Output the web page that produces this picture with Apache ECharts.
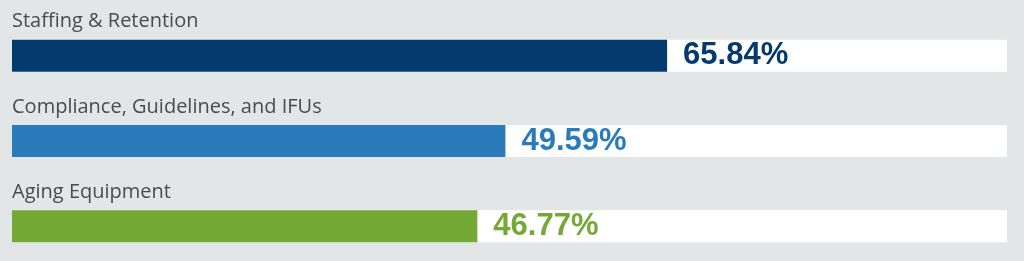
<!DOCTYPE html>
<html>
<head>
<meta charset="utf-8">
<script src="https://cdn.jsdelivr.net/npm/echarts@6/dist/echarts.min.js"></script>
<style>
  html, body { margin: 0; padding: 0; background: #e3e6e7; }
  #chart { width: 1024px; height: 261px; }
</style>
</head>
<body>
<div id="chart"></div>
<script>
const categories = ['Staffing & Retention', 'Compliance, Guidelines, and IFUs', 'Aging Equipment']
const percentValues = [65.84, 49.59, 46.77]
const trackMax = [100, 100, 100]
const barColors = ['#053a6e', '#2b7bba', '#74a935']

const chart = echarts.init(document.getElementById('chart'))

chart.setOption({
  backgroundColor: '#e3e6e7',
  animation: false,
  grid: { left: 12, right: 17, top: 13, height: 256, outerBoundsMode: 'none' },
  xAxis: { type: 'value', min: 0, max: 100, show: false },
  yAxis: {
    type: 'category',
    data: categories,
    inverse: true,
    show: false,
  },
  series: [
    {
      // white track with the category name above it
      type: 'bar',
      data: trackMax,
      barWidth: 32,
      barGap: '-100%',
      silent: true,
      itemStyle: { color: '#ffffff' },
      label: {
        show: true,
        position: [0, -8],
        align: 'left',
        verticalAlign: 'bottom',
        formatter: (p) => p.name,
        color: '#4b4b4b',
        fontFamily: 'Open Sans',
        fontSize: 20,
      },
    },
    {
      type: 'bar',
      data: percentValues.map((v, i) => ({ value: v, itemStyle: { color: barColors[i] } })),
      barWidth: 32,
      label: {
        show: true,
        position: 'right',
        distance: 16,
        formatter: (p) => p.value.toFixed(2) + '%',
        color: 'inherit',
        fontFamily: 'Liberation Sans',
        fontWeight: 'bold',
        fontSize: 31,
      },
    },
  ],
})
</script>
</body>
</html>
